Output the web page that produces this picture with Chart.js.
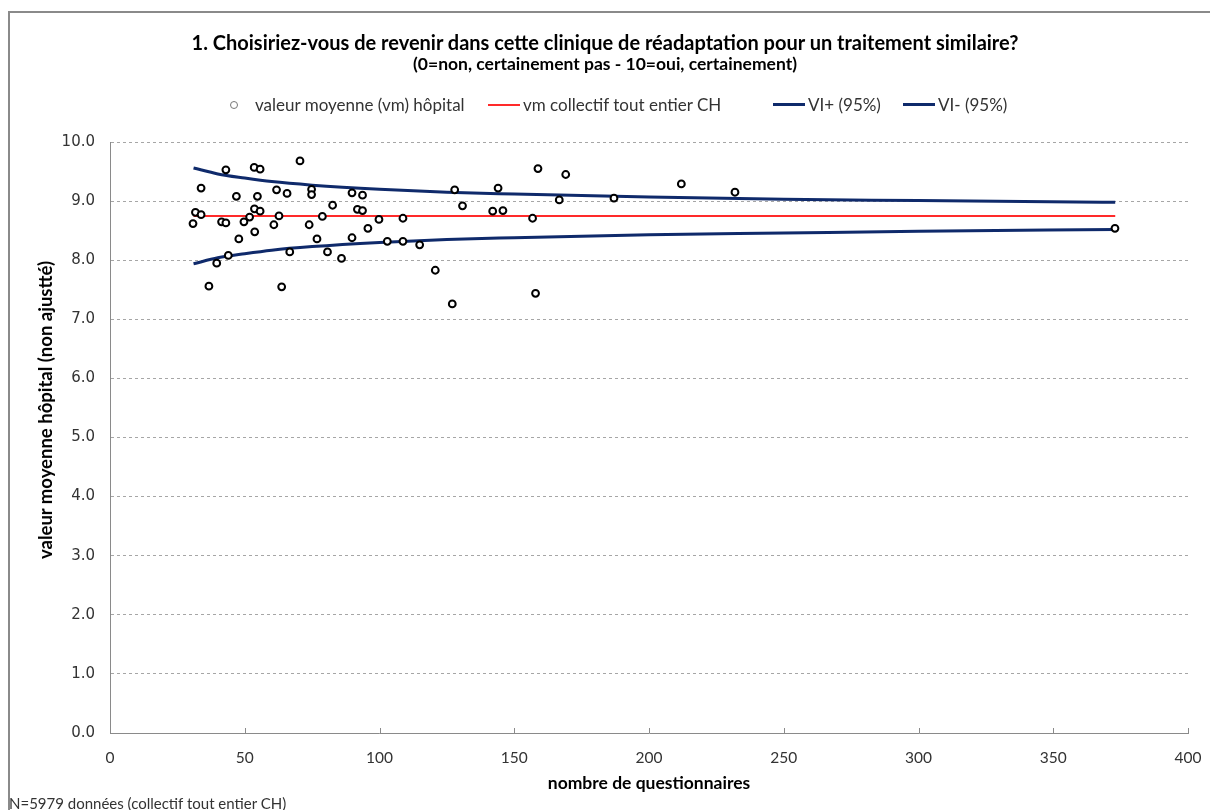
<!DOCTYPE html>
<html lang="fr">
<head>
    <meta charset="UTF-8">
    <title>Clinique de réadaptation - question 1</title>
    <script src="https://cdn.jsdelivr.net/npm/chart.js"></script>
    <style>
        body {
            margin: 0;
            width: 1210px;
            height: 810px;
            overflow: hidden;
            background: #fff;
            position: relative;
            font-family: Lato, "DejaVu Sans", sans-serif;
            color: #222;
        }
        #frame {
            position: absolute;
            left: 8px;
            top: 11px;
            width: 1400px;
            height: 1000px;
            border: 2px solid #8a8a8a;
        }
        #chart {
            position: absolute;
            left: 0;
            top: 0;
        }
        .title {
            position: absolute;
            left: 0;
            width: 1210px;
            text-align: center;
            font-weight: bold;
            color: #000;
            white-space: nowrap;
        }
        #main-title { top: 30px; font-size: 20px; line-height: 24px; }
        #sub-title { top: 54px; font-size: 17.5px; line-height: 20px; }
        .legend-item {
            position: absolute;
            top: 95px;
            font-size: 17px;
            line-height: 20px;
            white-space: nowrap;
            color: #333;
        }
        .swatch {
            position: absolute;
            height: 0;
        }
        #y-title {
            position: absolute;
            left: 45px;
            top: 410px;
            transform: translate(-50%, -50%) rotate(-90deg);
            font-size: 18.5px;
            line-height: 22px;
            font-weight: bold;
            color: #000;
            white-space: nowrap;
        }
        #footnote {
            position: absolute;
            left: 9px;
            top: 794px;
            font-size: 15px;
            line-height: 18px;
            color: #333;
            white-space: nowrap;
        }
    </style>
</head>
<body>
    <div id="frame"></div>
    <canvas id="chart" width="1210" height="810"></canvas>

    <div class="title" id="main-title">1. Choisiriez-vous de revenir dans cette clinique de réadaptation pour un traitement similaire?</div>
    <div class="title" id="sub-title">(0=non, certainement pas - 10=oui, certainement)</div>

    <!-- legend -->
    <div class="swatch" style="left:230px; top:101px; width:6px; height:6px; border:1px solid #777; border-radius:50%;"></div>
    <div class="legend-item" style="left:255px;">valeur moyenne (vm) hôpital</div>
    <div class="swatch" style="left:488px; top:104px; width:32px; border-top:2px solid #ff2a2a;"></div>
    <div class="legend-item" style="left:523px;">vm collectif tout entier CH</div>
    <div class="swatch" style="left:773px; top:103px; width:32px; border-top:3px solid #0f2a6b;"></div>
    <div class="legend-item" style="left:808px;">VI+ (95%)</div>
    <div class="swatch" style="left:903px; top:103px; width:32px; border-top:3px solid #0f2a6b;"></div>
    <div class="legend-item" style="left:938px;">VI- (95%)</div>

    <div id="y-title">valeur moyenne hôpital (non ajustté)</div>
    <div id="footnote">N=5979 données (collectif tout entier CH)</div>

    <script>
        // hospital means: number of questionnaires / mean score
        var hospN = [30.8, 31.7, 33.8, 33.8, 36.7, 39.6, 41.4, 43.0, 43.0, 43.9,
                     46.9, 47.8, 49.7, 51.8, 53.5, 53.6, 53.7, 54.7, 55.7, 55.7,
                     60.8, 61.8, 62.7, 63.7, 65.7, 66.7, 70.5, 73.9, 74.8, 74.8,
                     76.8, 78.8, 80.7, 82.6, 85.9, 89.8, 89.8, 91.8, 93.7, 93.7,
                     95.7, 99.8, 102.9, 108.7, 108.7, 114.9, 120.7, 127.0, 127.9, 130.8,
                     142.0, 144.0, 145.8, 156.8, 157.9, 158.8, 166.7, 169.1, 187.0, 212.0,
                     231.9, 372.9];
        var hospMean = [8.62, 8.81, 8.77, 9.22, 7.56, 7.95, 8.65, 8.63, 9.53, 8.08,
                        9.08, 8.36, 8.65, 8.73, 9.57, 8.87, 8.48, 9.08, 9.54, 8.83,
                        8.60, 9.19, 8.75, 7.55, 9.13, 8.14, 9.68, 8.60, 9.20, 9.11,
                        8.36, 8.74, 8.14, 8.93, 8.03, 9.14, 8.38, 8.86, 9.10, 8.84,
                        8.54, 8.69, 8.32, 8.71, 8.32, 8.26, 7.83, 7.26, 9.19, 8.92,
                        8.83, 9.22, 8.84, 8.71, 7.44, 9.55, 9.02, 9.45, 9.05, 9.29,
                        9.15, 8.54];

        // overall mean (whole CH collective)
        var meanN = [31, 373];
        var meanValue = [8.75, 8.75];

        // confidence limits (95%)
        var ciN = [31, 40, 50, 60, 75, 100, 125, 150, 200, 250, 300, 373];
        var ciUpper = [9.56, 9.46, 9.39, 9.33, 9.27, 9.20, 9.15, 9.12, 9.07, 9.03, 9.01, 8.98];
        var ciLower = [7.94, 8.04, 8.11, 8.17, 8.23, 8.30, 8.35, 8.38, 8.43, 8.46, 8.49, 8.52];

        var xTicks = [0, 50, 100, 150, 200, 250, 300, 350, 400];
        var yTicks = [0, 1, 2, 3, 4, 5, 6, 7, 8, 9, 10];

        function toPoints(xs, ys) {
            return xs.map(function(x, i) { return {x: x, y: ys[i]}; });
        }

        // small tick marks inside the plot on the x axis
        var innerTicks = {
            id: 'innerTicks',
            afterDraw: function(chart) {
                var xs = chart.scales.x, ctx = chart.ctx, bottom = chart.chartArea.bottom;
                ctx.save();
                ctx.strokeStyle = '#8a8a8a';
                ctx.lineWidth = 1;
                xs.ticks.forEach(function(t) {
                    var px = Math.round(xs.getPixelForValue(t.value)) + 0.5;
                    ctx.beginPath();
                    ctx.moveTo(px, bottom);
                    ctx.lineTo(px, bottom - 5);
                    ctx.stroke();
                });
                ctx.restore();
            }
        };

        var navy = '#0f2a6b';

        new Chart(document.getElementById('chart'), {
            type: 'scatter',
            data: {
                datasets: [
                    {
                        label: 'valeur moyenne (vm) hôpital',
                        data: toPoints(hospN, hospMean),
                        pointRadius: 3.4,
                        pointBorderWidth: 2,
                        pointBorderColor: '#000',
                        pointBackgroundColor: '#fff',
                        order: 0
                    },
                    {
                        label: 'vm collectif tout entier CH',
                        data: toPoints(meanN, meanValue),
                        showLine: true,
                        borderColor: '#ff2a2a',
                        borderWidth: 2,
                        pointRadius: 0,
                        order: 1
                    },
                    {
                        label: 'VI+ (95%)',
                        data: toPoints(ciN, ciUpper),
                        showLine: true,
                        borderColor: navy,
                        borderWidth: 3,
                        pointRadius: 0,
                        cubicInterpolationMode: 'monotone',
                        order: 2
                    },
                    {
                        label: 'VI- (95%)',
                        data: toPoints(ciN, ciLower),
                        showLine: true,
                        borderColor: navy,
                        borderWidth: 3,
                        pointRadius: 0,
                        cubicInterpolationMode: 'monotone',
                        order: 3
                    }
                ]
            },
            options: {
                responsive: false,
                devicePixelRatio: 1,
                animation: false,
                layout: {
                    padding: {top: 142, left: 10, right: 22, bottom: 0}
                },
                plugins: {
                    legend: {display: false},
                    title: {display: false},
                    tooltip: {enabled: false}
                },
                scales: {
                    x: {
                        type: 'linear',
                        min: 0,
                        max: 400,
                        afterFit: function(scale) {
                            scale.height = 77;
                            scale.paddingLeft = 0;
                            scale.paddingRight = 0;
                        },
                        afterBuildTicks: function(scale) {
                            scale.ticks = xTicks.map(function(v) { return {value: v}; });
                        },
                        ticks: {
                            padding: 16,
                            color: '#333',
                            font: {family: 'Lato', size: 15.5},
                            maxRotation: 0
                        },
                        grid: {drawOnChartArea: false, drawTicks: false},
                        border: {color: '#8a8a8a', width: 1},
                        title: {
                            display: true,
                            text: 'nombre de questionnaires',
                            color: '#000',
                            font: {family: 'Lato', size: 17.5, weight: 'bold'},
                            padding: {top: 0, bottom: 16}
                        }
                    },
                    y: {
                        min: 0,
                        max: 10,
                        afterFit: function(scale) {
                            scale.width = 100;
                            scale.paddingTop = 0;
                            scale.paddingBottom = 0;
                        },
                        afterBuildTicks: function(scale) {
                            scale.ticks = yTicks.map(function(v) { return {value: v}; });
                        },
                        ticks: {
                            padding: 15,
                            color: '#333',
                            font: {family: 'DejaVu Sans', size: 15},
                            callback: function(v) { return Number(v).toFixed(1); }
                        },
                        grid: {color: '#a6a6a6', lineWidth: 1, drawTicks: false},
                        border: {color: '#8a8a8a', width: 1, dash: [3, 3]}
                    }
                }
            },
            plugins: [innerTicks]
        });
    </script>
</body>
</html>
